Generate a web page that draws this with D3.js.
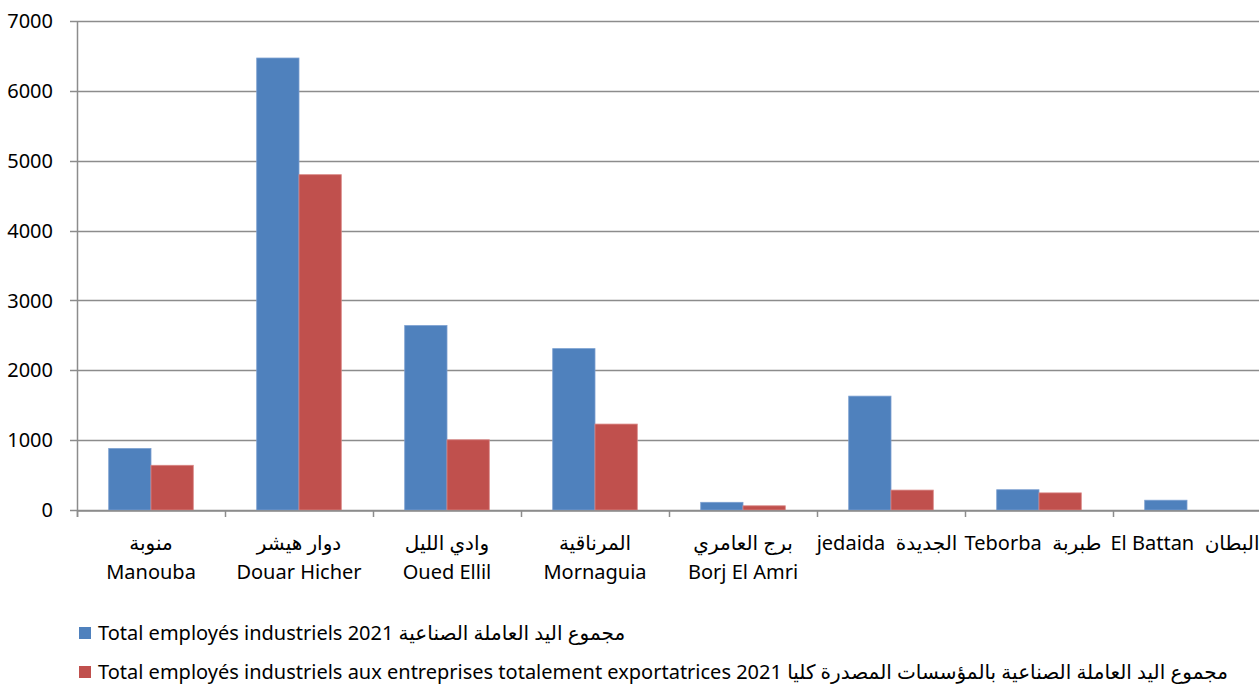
<!DOCTYPE html>
<html>
<head>
<meta charset="utf-8">
<script src="https://cdn.jsdelivr.net/npm/d3@7"></script>
<style>
  body { margin: 0; background: #fff; }
  text { font-family: "Noto Sans", "DejaVu Sans", sans-serif; fill: #000; }
</style>
</head>
<body>
<svg id="chart"></svg>
<script>
// categories (arabic line, latin line) -- last three are one line in the original
var labelLines = [
  ["منوبة", "Manouba"],
  ["دوار هيشر", "Douar Hicher"],
  ["وادي الليل", "Oued Ellil"],
  ["المرناقية", "Mornaguia"],
  ["برج العامري", "Borj El Amri"],
  ["jedaida  الجديدة"],
  ["Teborba  طبربة"],
  ["El Battan  البطان"]
]
var categories = ["Manouba", "Douar Hicher", "Oued Ellil", "Mornaguia", "Borj El Amri", "jedaida", "Teborba", "El Battan"]
var labelShift = [0, 0, 0, 0, 0, -4, -6, -2]

// values
var totalEmp = [880, 6470, 2640, 2310, 110, 1630, 290, 140]
var exportEmp = [640, 4800, 1005, 1230, 60, 285, 245, 0]

var yTicks = [0, 1000, 2000, 3000, 4000, 5000, 6000, 7000]
var seriesNames = [
  "Total employés industriels 2021 مجموع اليد العاملة الصناعية",
  "Total employés industriels aux entreprises totalement exportatrices 2021 مجموع اليد العاملة الصناعية بالمؤسسات المصدرة كليا"
]
var colors = ["#4F81BD", "#C0504D"]

var screen = {width: 1259, height: 685}
var plot = {left: 77, top: 21, right: 1261, bottom: 510}

var svg = d3.select("#chart")
  .attr("width", screen.width)
  .attr("height", screen.height)

var x = d3.scaleBand()
  .domain(categories)
  .range([plot.left, plot.right])
  .paddingInner(0)
  .paddingOuter(0)

// excel gap width 150% -> two bars take 2/3.5 of the band
var inner = d3.scaleBand()
  .domain([0, 1])
  .range([x.bandwidth() * 0.75 / 3.5, x.bandwidth() - x.bandwidth() * 0.75 / 3.5])

var y = d3.scaleLinear()
  .domain([0, 7000])
  .range([plot.bottom, plot.top])

// gridlines
svg.append("g").selectAll("line")
  .data(yTicks)
  .enter().append("line")
  .attr("x1", plot.left - 7)
  .attr("x2", screen.width)
  .attr("y1", function(d) { return Math.round(y(d)) + 0.5 })
  .attr("y2", function(d) { return Math.round(y(d)) + 0.5 })
  .attr("stroke", "#8c8c8c")
  .attr("stroke-width", 1.5)

// y tick labels
svg.append("g").selectAll("text")
  .data(yTicks)
  .enter().append("text")
  .attr("x", 53)
  .attr("y", function(d) { return y(d) })
  .attr("dy", "0.36em")
  .attr("text-anchor", "end")
  .style("font-size", "20px")
  .text(function(d) { return d })

// bars
var rows = categories.map(function(c, i) { return {cat: c, vals: [totalEmp[i], exportEmp[i]]} })
var groups = svg.append("g").selectAll(".cat")
  .data(rows)
  .enter().append("g")
  .attr("class", "cat")
  .attr("transform", function(d) { return "translate(" + x(d.cat) + ",0)" })

groups.selectAll("rect")
  .data(function(d) { return d.vals })
  .enter().append("rect")
  .filter(function(v) { return v > 0 })
  .attr("x", function(v, i) { return inner(i) })
  .attr("width", inner.bandwidth())
  .attr("y", function(v) { return y(v) })
  .attr("height", function(v) { return y(0) - y(v) })
  .attr("fill", function(v, i) { return colors[i] })
  .attr("stroke", function(v, i) { return i == 0 ? "#7a9fd0" : "#d98583" })
  .attr("stroke-width", 0.8)

// axes lines
svg.append("line")
  .attr("x1", plot.left + 0.5).attr("x2", plot.left + 0.5)
  .attr("y1", plot.top).attr("y2", plot.bottom + 7)
  .attr("stroke", "#8c8c8c").attr("stroke-width", 1.5)

var xAxis = d3.axisBottom(x).tickSize(0).tickFormat("")
svg.append("g")
  .attr("transform", "translate(0," + (Math.round(y(0)) + 0.5) + ")")
  .call(xAxis)
  .call(function(g) { g.select(".domain").attr("stroke", "#8c8c8c").attr("stroke-width", 1.5) })

// category boundary ticks
svg.append("g").selectAll("line")
  .data(d3.range(categories.length + 1))
  .enter().append("line")
  .attr("x1", function(i) { return plot.left + i * x.bandwidth() + 0.5 })
  .attr("x2", function(i) { return plot.left + i * x.bandwidth() + 0.5 })
  .attr("y1", plot.bottom)
  .attr("y2", plot.bottom + 7)
  .attr("stroke", "#8c8c8c").attr("stroke-width", 1.5)

// category labels
var labels = svg.append("g").selectAll("text")
  .data(categories)
  .enter().append("text")
  .attr("text-anchor", "middle")
  .style("font-size", "20px")
  .style("white-space", "pre")
  .attr("transform", function(d, i) { return "translate(" + (x(d) + x.bandwidth() / 2 + labelShift[i]) + ",0)" })

labels.selectAll("tspan")
  .data(function(d, i) { return labelLines[i] })
  .enter().append("tspan")
  .attr("x", 0)
  .attr("y", function(t, j) { return 550 + j * 29 })
  .text(function(t) { return t })

// legend
var legend = svg.append("g").selectAll("g")
  .data(seriesNames)
  .enter().append("g")
  .attr("transform", function(d, i) { return "translate(79," + (627 + i * 39) + ")" })

legend.append("rect")
  .attr("width", 12).attr("height", 12)
  .attr("fill", function(d, i) { return colors[i] })

legend.append("text")
  .attr("x", 19)
  .attr("y", 13)
  .style("font-size", "20px")
  .text(function(d) { return d })
</script>
</body>
</html>
